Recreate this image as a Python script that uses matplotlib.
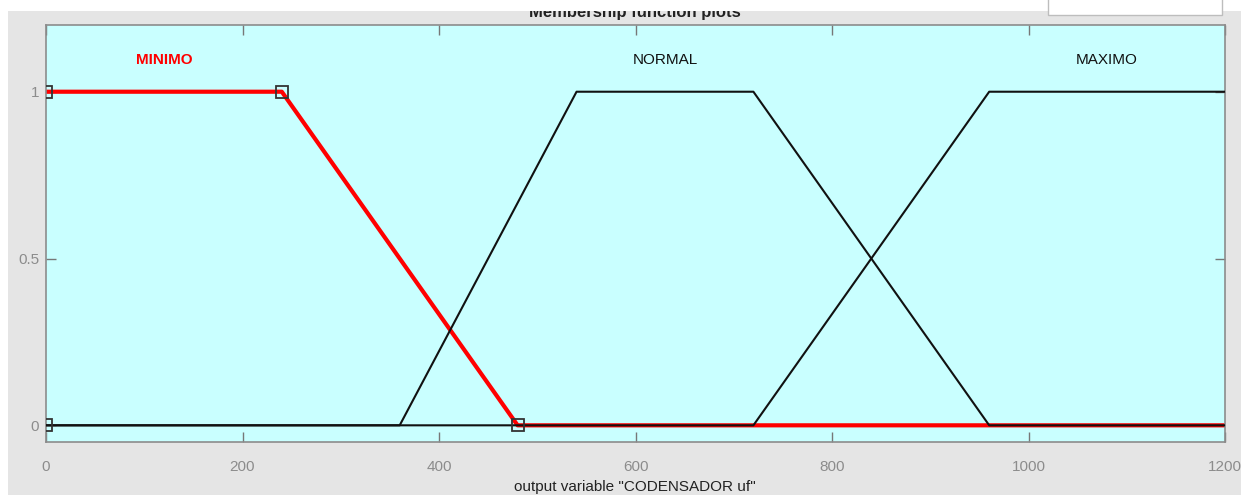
import matplotlib
matplotlib.use("Agg")
import matplotlib.pyplot as plt
from matplotlib.patches import Rectangle

plt.rcParams['font.family'] = ['Liberation Sans Narrow', 'Liberation Sans', 'DejaVu Sans']

# Output variable universe and membership functions (trapmf parameters)
x_range = [0, 1200]
mf_names = ["MINIMO", "NORMAL", "MAXIMO"]
mf_params = {
    "MINIMO": [0, 0, 240, 480],
    "NORMAL": [360, 540, 720, 960],
    "MAXIMO": [720, 960, 1200, 1200],
}
selected_mf = "MINIMO"
x_ticks = [0, 200, 400, 600, 800, 1000, 1200]
y_ticks = [0, 0.5, 1]
y_ticklabels = ["0", "0.5", "1"]
title_text = "Membership function plots"
xlabel_text = 'output variable "CODENSADOR uf"'


def trap_points(p, lo, hi):
    """Polyline of a trapezoid clipped to [lo, hi]."""
    a, b, c, d = p
    xs, ys = [], []
    if a > lo:
        xs += [lo, a]
        ys += [0, 0]
    xs += [b, c]
    ys += [1, 1]
    if d < hi:
        xs += [d, hi]
        ys += [0, 0]
    else:
        xs[-1] = min(xs[-1], hi)
        if xs[-1] < hi:
            xs.append(hi)
            ys.append(1)
    return xs, ys


W, H = 1241, 495
fig = plt.figure(figsize=(W / 100, H / 100), dpi=100, facecolor="white")

# grey panel behind the plot
fig.patches.append(Rectangle((8 / W, 0), 1 - 8 / W, 1 - 11 / H,
                             transform=fig.transFigure, facecolor="#e5e5e5",
                             edgecolor="none", zorder=-10))

ax = fig.add_axes([46 / W, 1 - 442 / H, (1225 - 46) / W, (442 - 25) / H])
ax.set_facecolor("#c9ffff")
ax.set_xlim(*x_range)
ax.set_ylim(-0.05, 1.2)

for name in mf_names:
    xs, ys = trap_points(mf_params[name], *x_range)
    if name == selected_mf:
        ax.plot(xs, ys, color="#ff0000", lw=3.0, zorder=2, solid_joinstyle="round")
    else:
        ax.plot(xs, ys, color="#111111", lw=1.5, zorder=3)
    b, c = mf_params[name][1], mf_params[name][2]
    cx = (b + min(c, x_range[1])) / 2
    ax.text(cx, 1.095, name, ha="center", va="center", fontsize=11,
            color="#ff0000" if name == selected_mf else "#111111",
            fontweight="bold" if name == selected_mf else "normal")

# vertices of the selected function
a, b, c, d = mf_params[selected_mf]
ax.plot([a, b, c, d], [0, 1, 1, 0], linestyle="none", marker="s", ms=8,
        mfc="none", mec="#333333", mew=1.3, zorder=4)

ax.set_xticks(x_ticks)
ax.set_yticks(y_ticks)
ax.set_yticklabels(y_ticklabels)
ax.tick_params(direction="in", length=7, color="#777777", labelcolor="#8c8c8c",
               labelsize=11, top=True, right=True, width=1)
ax.tick_params(axis="x", pad=13)
ax.tick_params(axis="y", pad=5)
for s in ax.spines.values():
    s.set_color("#8c8c8c")
    s.set_linewidth(1.2)

fig.text(635 / W, 1 - 13 / H, title_text, ha="center", va="center",
         fontsize=12, fontweight="bold", color="#222222", zorder=1)
fig.text(635 / W, 1 - 487 / H, xlabel_text, ha="center", va="center",
         fontsize=11, color="#222222")

# white strip on top that hides the upper part of the title
fig.patches.append(Rectangle((0, 1 - 11 / H), 1, 11 / H, transform=fig.transFigure,
                             facecolor="white", edgecolor="none", zorder=5))
# menu box at the top right
fig.patches.append(Rectangle((1048 / W, 1 - 15 / H), (1222 - 1048) / W, 17 / H,
                             transform=fig.transFigure, facecolor="white",
                             edgecolor="#bdbdbd", lw=1, zorder=6))

fig.savefig("out.png", dpi=100, facecolor="white")
